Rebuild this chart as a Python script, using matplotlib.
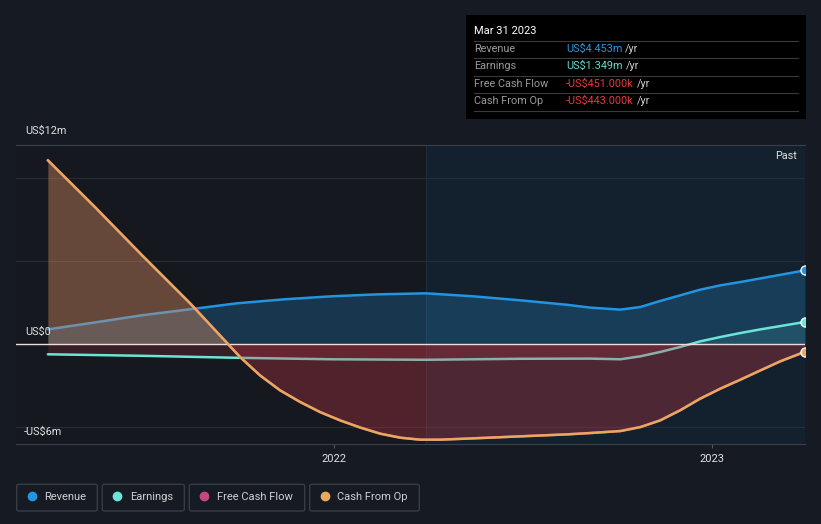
import matplotlib
matplotlib.use("Agg")
import matplotlib.pyplot as plt
from matplotlib.patches import Rectangle, FancyBboxPatch
import numpy as np

plt.rcParams['font.family'] = ['Roboto', 'DejaVu Sans']

# ---- data (decimal years, values in US$ millions) ----
rev_x = [2021.243, 2021.368, 2021.492, 2021.619, 2021.743, 2021.868, 2021.992, 2022.116,
         2022.243, 2022.368, 2022.492, 2022.616, 2022.677, 2022.757, 2022.810, 2022.862,
         2022.915, 2022.968, 2023.021, 2023.074, 2023.245]
rev_y = [0.90, 1.32, 1.75, 2.11, 2.47, 2.71, 2.89, 3.01,
         3.07, 2.89, 2.65, 2.38, 2.21, 2.09, 2.25, 2.61,
         2.95, 3.29, 3.55, 3.75, 4.453]

earn_x = [2021.243, 2021.492, 2021.743, 2021.992, 2022.243, 2022.492, 2022.677, 2022.757,
          2022.810, 2022.862, 2022.915, 2022.968, 2023.021, 2023.074, 2023.127, 2023.180,
          2023.245]
earn_y = [-0.60, -0.69, -0.81, -0.90, -0.93, -0.87, -0.86, -0.90,
          -0.72, -0.46, -0.16, 0.18, 0.44, 0.68, 0.90, 1.10,
          1.349]

cfo_x = [2021.243, 2021.368, 2021.492, 2021.619, 2021.698, 2021.751, 2021.804, 2021.857,
         2021.910, 2021.963, 2022.016, 2022.069, 2022.122, 2022.175, 2022.227, 2022.280,
         2022.368, 2022.492, 2022.616, 2022.677, 2022.757, 2022.810, 2022.862, 2022.915,
         2022.968, 2023.021, 2023.074, 2023.127, 2023.180, 2023.245]
cfo_y = [11.08, 8.25, 5.36, 2.47, 0.54, -0.76, -1.87, -2.77,
         -3.47, -4.08, -4.58, -5.01, -5.38, -5.62, -5.74, -5.74,
         -5.66, -5.54, -5.42, -5.34, -5.22, -4.98, -4.58, -3.97,
         -3.27, -2.67, -2.13, -1.57, -1.02, -0.443]

fcf_x = cfo_x
fcf_y = [11.08, 8.25, 5.36, 2.47, 0.54, -0.76, -1.87, -2.77,
         -3.47, -4.08, -4.58, -5.01, -5.38, -5.62, -5.74, -5.74,
         -5.66, -5.54, -5.42, -5.34, -5.22, -4.98, -4.58, -3.97,
         -3.27, -2.67, -2.13, -1.57, -1.02, -0.451]

x_ticks = [2022, 2023]
x_tick_labels = ["2022", "2023"]
past_start = 2022.243

C_REV = '#2394df'
C_EARN = '#6ce5d6'
C_FCF = '#c4477f'
C_CFO = '#e8a95c'
C_NEG = '#d63a4a'

W, H = 821, 524
fig = plt.figure(figsize=(W / 100, H / 100), dpi=100)
fig.patch.set_facecolor('#151a23')


def fx(px):
    return px / W


def fy(py):
    return 1 - py / H


ax = fig.add_axes([fx(16), fy(444), (805 - 16) / W, (444 - 145) / H])
ax.set_facecolor('#151a23')
xmin, xmax = 2021.1587, 2023.245
ax.set_xlim(xmin, xmax)
ax.set_ylim(-6, 12)

ax.axvspan(xmin, past_start, color='#15191f', zorder=0, lw=0)
ax.axvspan(past_start, xmax, color='#13202d', zorder=0, lw=0)
ax.axvline(past_start, color='#1e2c3a', lw=0.8, zorder=0.5)

for g in [10, 5, -5]:
    ax.axhline(g, color='#262d37', lw=0.8, zorder=0.6)

for s in ['left', 'right']:
    ax.spines[s].set_visible(False)
ax.spines['top'].set_color('#3a404a')
ax.spines['bottom'].set_color('#3a404a')
ax.spines['top'].set_linewidth(0.8)
ax.spines['bottom'].set_linewidth(0.8)
ax.set_yticks([])
ax.set_xticks(x_ticks)
ax.set_xticklabels(x_tick_labels)
ax.tick_params(axis='x', colors='#55595f', length=3, width=0.8, labelcolor='#e0e0e0',
               labelsize=8, pad=4)


def fills(x, y, pos_color, pos_alpha, neg_alpha, z):
    x = np.asarray(x)
    y = np.asarray(y)
    ax.fill_between(x, y, 0, where=y >= 0, interpolate=True, color=pos_color,
                    alpha=pos_alpha, lw=0, zorder=z)
    ax.fill_between(x, y, 0, where=y <= 0, interpolate=True, color=C_NEG,
                    alpha=neg_alpha, lw=0, zorder=z)


# revenue
fills(rev_x, rev_y, C_REV, 0.25, 0.17, 1)
ax.plot(rev_x, rev_y, color=C_REV, lw=1.8, zorder=2, solid_capstyle='round',
        solid_joinstyle='round')
# earnings
fills(earn_x, earn_y, C_EARN, 0.12, 0.17, 1.1)
ax.plot(earn_x, earn_y, color=C_EARN, lw=1.8, zorder=2, solid_capstyle='round',
        solid_joinstyle='round')
# free cash flow
fills(fcf_x, fcf_y, C_FCF, 0.15, 0.17, 3)
ax.plot(fcf_x, fcf_y, color=C_FCF, lw=1.8, zorder=3.5, solid_joinstyle='round')
# cash from op
fills(cfo_x, cfo_y, C_CFO, 0.3, 0.17, 3.1)
ax.plot(cfo_x, cfo_y, color=C_CFO, lw=1.8, zorder=4, solid_capstyle='round',
        solid_joinstyle='round')

ax.axhline(0, color='#ecdcdc', lw=1.0, zorder=3.8)

for xs, ys, c in [(rev_x, rev_y, C_REV), (earn_x, earn_y, C_EARN), (cfo_x, cfo_y, C_CFO)]:
    ax.plot([xs[-1]], [ys[-1]], 'o', ms=6.5, mfc=c, mec='white', mew=1.0, zorder=6,
            clip_on=True)

# y labels
lab_c = '#e0e0e0'
fig.text(fx(25), fy(131), "US$12m", color=lab_c, fontsize=7.8, va='center', ha='left')
fig.text(fx(25), fy(332), "US$0", color=lab_c, fontsize=7.8, va='center', ha='left')
fig.text(fx(24), fy(432), "-US$6m", color=lab_c, fontsize=7.8, va='center', ha='left')
fig.text(fx(797), fy(156), "Past", color=lab_c, fontsize=7.8, va='center', ha='right')

# tooltip
fig.add_artist(Rectangle((fx(466), fy(119)), (806 - 466) / W, (119 - 15) / H,
                         transform=fig.transFigure, facecolor='#000000', edgecolor='none'))
fig.text(fx(474), fy(31), "Mar 31 2023", color='white', fontsize=8, va='center', ha='left')
for yy in [41, 58.3, 76, 93.3, 111.3]:
    fig.add_artist(plt.Line2D([fx(474), fx(798)], [fy(yy), fy(yy)], transform=fig.transFigure,
                              color='#3a3a3a', lw=0.8))
rows = [("Revenue", "US$4.453m", '#2e95e0'),
        ("Earnings", "US$1.349m", '#62dccb'),
        ("Free Cash Flow", "-US$451.000k", '#e5393e'),
        ("Cash From Op", "-US$443.000k", '#e5393e')]
row_y = [49, 66.3, 84, 101.3]
renderer = fig.canvas.get_renderer()
for (name, val, col), yy in zip(rows, row_y):
    fig.text(fx(474), fy(yy), name, color='#9a9a9a', fontsize=7.8, va='center', ha='left')
    t = fig.text(fx(566), fy(yy), val, color=col, fontsize=7.8, va='center', ha='left')
    bb = t.get_window_extent(renderer=renderer)
    fig.text(bb.x1 / W + fx(3), fy(yy), "/yr", color='#cfcfcf', fontsize=7.8, va='center',
             ha='left')

# legend
legend_items = [("Revenue", C_REV, 16.7, 97.3), ("Earnings", C_EARN, 102.3, 184.3),
                ("Free Cash Flow", C_FCF, 189.3, 304.7), ("Cash From Op", C_CFO, 309.7, 419.3)]
for name, col, x0, x1 in legend_items:
    fig.add_artist(FancyBboxPatch((fx(x0), fy(511)), (x1 - x0) / W, (511 - 484.3) / H,
                                  boxstyle="round,pad=0,rounding_size=0.003",
                                  transform=fig.transFigure, facecolor='none',
                                  edgecolor='#3a404a', lw=0.9))
    fig.add_artist(plt.Line2D([fx(x0 + 15)], [fy(496)], transform=fig.transFigure,
                              marker='o', ms=6, mfc=col, mec=col, ls='none'))
    fig.text(fx(x0 + 27.5), fy(496.5), name, color='#d0d0d0', fontsize=8, va='center',
             ha='left')

fig.savefig("out.png", dpi=100, facecolor=fig.get_facecolor())
